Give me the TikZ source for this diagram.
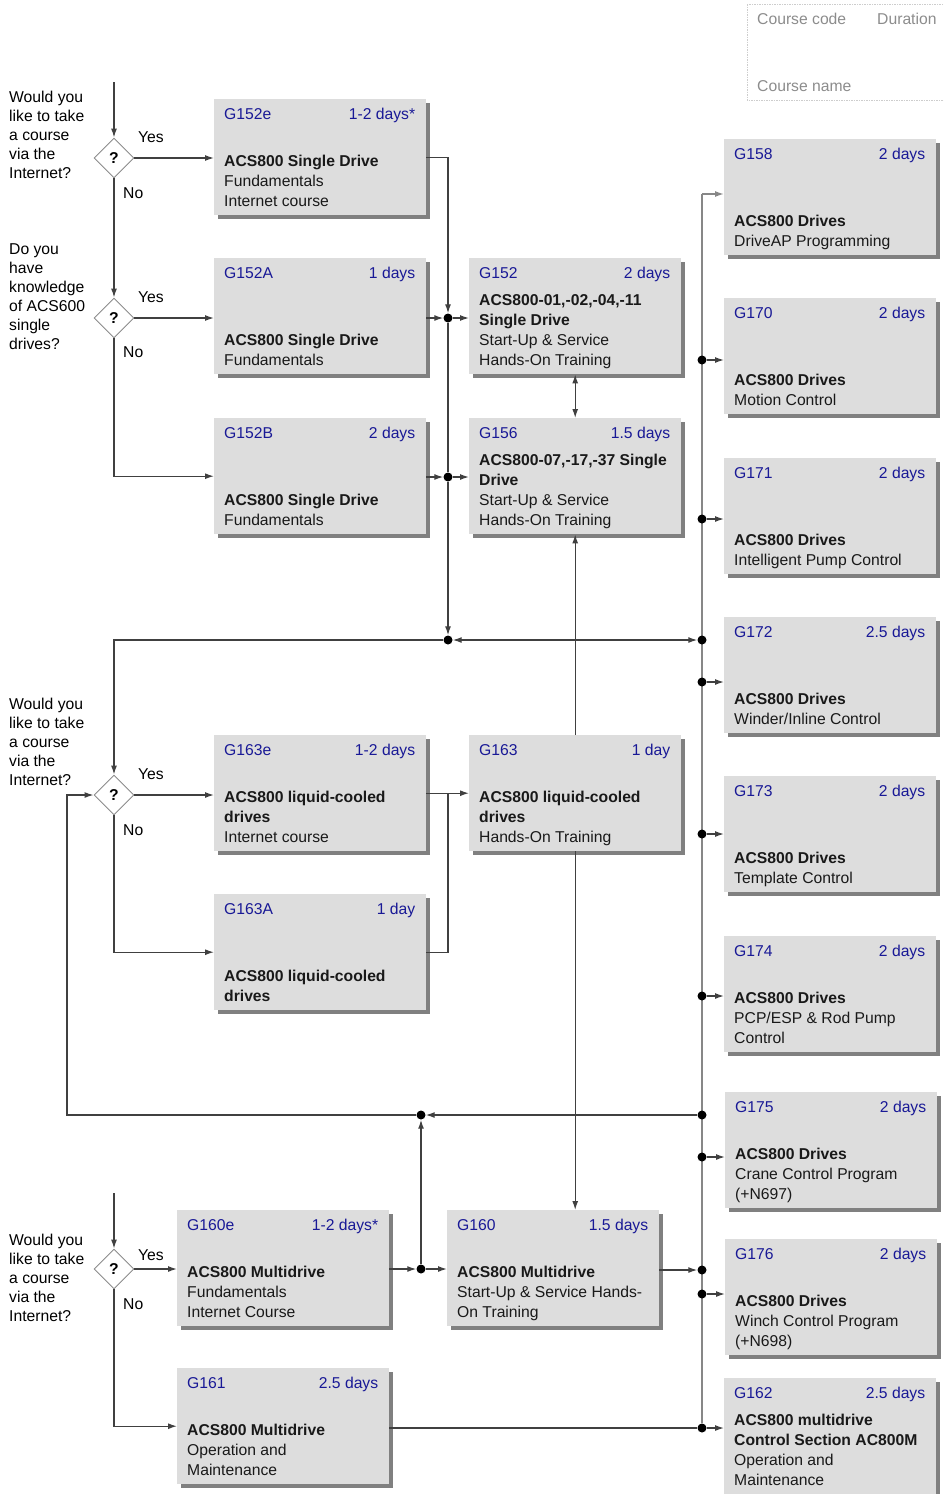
\documentclass[tikz,border=0pt]{standalone}
\usepackage{fontspec}
\setmainfont{Liberation Sans}
\usepackage{tikz}
\usetikzlibrary{shapes.geometric, shadows, calc, arrows.meta, backgrounds}

\definecolor{boxgrey}{RGB}{221,221,221}
\definecolor{shadegrey}{RGB}{128,128,128}
\definecolor{codeblue}{RGB}{25,25,150}
\definecolor{linegrey}{RGB}{64,64,64}
\definecolor{busgrey}{RGB}{135,135,135}
\definecolor{diamondgrey}{RGB}{140,140,140}
\definecolor{legendgrey}{RGB}{140,140,140}
\definecolor{framegrey}{RGB}{205,205,205}

\tikzset{
	course/.style={
		fill=boxgrey,
		minimum width=212pt,
		minimum height=116pt,
		inner sep=0pt,
		anchor=north west,
		drop shadow={shadow xshift=4pt, shadow yshift=-4pt, fill=shadegrey, opacity=1}
	},
	code/.style={text=codeblue, inner sep=0pt},
	body/.style={anchor=base west, inner sep=0pt, text=black!90},
	decision/.style={
		diamond,
		draw=diamondgrey,
		fill=white,
		line width=0.9pt,
		minimum width=40pt,
		minimum height=40pt,
		inner sep=0pt,
		font=\fontsize{15.7}{20}\selectfont\bfseries
	},
	question/.style={anchor=base west, inner sep=0pt, font=\fontsize{15.7}{19}\selectfont},
	answer/.style={anchor=base west, inner sep=0pt},
	legend/.style={anchor=base west, inner sep=0pt, text=legendgrey},
	junction/.style={circle, fill=black, inner sep=0pt, minimum size=9pt},
	bus/.style={draw=busgrey, line width=1.5pt}
}

% one course box: name, north west corner, code, duration, text
\newcommand{\course}[5]{%
	\node[course] (#1) at (#2) {};
	\node[code, anchor=base west] (#1-code) at ($(#1.north west)+(10,20)$) {#3};
	\node[code, anchor=base east] (#1-dur) at ($(#1.north east)+(-11,20)$) {#4};
	\node[body] (#1-txt) at ($(#1.south west)+(10,-9)$) {\begin{minipage}[b]{250pt}#5\end{minipage}};
}

\begin{document}
\begin{tikzpicture}[x=1pt, y=-1pt, font=\fontsize{15.7}{20}\selectfont, >={Latex[length=9pt, width=6pt]}]
	\useasboundingbox (0,0) rectangle (943,1494);

	% legend
	\draw[draw=framegrey, line width=0.6pt, dash pattern=on 1.5pt off 1pt] (747,4) rectangle (944,100);
	\node[legend] (lcode) at (757,24.5) {Course code};
	\node[legend] (ldur) at (877,24.5) {Duration};
	\node[legend] (lname) at (757,91.5) {Course name};

	% single drive courses
	\course{g152e}{214,99}{G152e}{1-2 days*}{\textbf{ACS800 Single Drive}\\Fundamentals\\Internet course}
	\course{g152a}{214,258}{G152A}{1 days}{\textbf{ACS800 Single Drive}\\Fundamentals}
	\course{g152b}{214,418}{G152B}{2 days}{\textbf{ACS800 Single Drive}\\Fundamentals}
	\course{g152}{469,258}{G152}{2 days}{\textbf{ACS800-01,-02,-04,-11}\\\textbf{Single Drive}\\Start-Up \& Service\\Hands-On Training}
	\course{g156}{469,418}{G156}{1.5 days}{\textbf{ACS800-07,-17,-37 Single}\\\textbf{Drive}\\Start-Up \& Service\\Hands-On Training}

	% liquid-cooled courses
	\course{g163e}{214,735}{G163e}{1-2 days}{\textbf{ACS800 liquid-cooled}\\\textbf{drives}\\Internet course}
	\course{g163a}{214,894}{G163A}{1 day}{\textbf{ACS800 liquid-cooled}\\\textbf{drives}}
	\course{g163}{469,735}{G163}{1 day}{\textbf{ACS800 liquid-cooled}\\\textbf{drives}\\Hands-On Training}

	% multidrive courses
	\course{g160e}{177,1210}{G160e}{1-2 days*}{\textbf{ACS800 Multidrive}\\Fundamentals\\Internet Course}
	\course{g161}{177,1368}{G161}{2.5 days}{\textbf{ACS800 Multidrive}\\Operation and\\Maintenance}
	\course{g160}{447,1210}{G160}{1.5 days}{\textbf{ACS800 Multidrive}\\Start-Up \& Service Hands-\\On Training}

	% application courses
	\course{g158}{724,139}{G158}{2 days}{\textbf{ACS800 Drives}\\DriveAP Programming}
	\course{g170}{724,298}{G170}{2 days}{\textbf{ACS800 Drives}\\Motion Control}
	\course{g171}{724,458}{G171}{2 days}{\textbf{ACS800 Drives}\\Intelligent Pump Control}
	\course{g172}{724,617}{G172}{2.5 days}{\textbf{ACS800 Drives}\\Winder/Inline Control}
	\course{g173}{724,776}{G173}{2 days}{\textbf{ACS800 Drives}\\Template Control}
	\course{g174}{724,936}{G174}{2 days}{\textbf{ACS800 Drives}\\PCP/ESP \& Rod Pump\\Control}
	\course{g175}{725,1092}{G175}{2 days}{\textbf{ACS800 Drives}\\Crane Control Program\\(+N697)}
	\course{g176}{725,1239}{G176}{2 days}{\textbf{ACS800 Drives}\\Winch Control Program\\(+N698)}
	\course{g162}{724,1378}{G162}{2.5 days}{\textbf{ACS800 multidrive}\\\textbf{Control Section AC800M}\\Operation and\\Maintenance}

	% questions
	\node[question] (q1) at (9,102.5) {\begin{minipage}[t]{90pt}Would you\\like to take\\a course\\via the\\Internet?\end{minipage}};
	\node[question] (q2) at (9,254.5) {\begin{minipage}[t]{90pt}Do you\\have\\knowledge\\of ACS600\\single\\drives?\end{minipage}};
	\node[question] (q3) at (9,709.5) {\begin{minipage}[t]{90pt}Would you\\like to take\\a course\\via the\\Internet?\end{minipage}};
	\node[question] (q4) at (9,1245) {\begin{minipage}[t]{90pt}Would you\\like to take\\a course\\via the\\Internet?\end{minipage}};

	\node[decision] (d1) at (114,158) {?};
	\node[decision] (d2) at (114,318) {?};
	\node[decision] (d3) at (114,795) {?};
	\node[decision] (d4) at (114,1269) {?};

	\node[answer] (yes1) at (138,142.5) {Yes};
	\node[answer] (no1) at (123,198.5) {No};
	\node[answer] (yes2) at (138,302.5) {Yes};
	\node[answer] (no2) at (123,357.5) {No};
	\node[answer] (yes3) at (138,779.5) {Yes};
	\node[answer] (no3) at (123,835.5) {No};
	\node[answer] (yes4) at (138,1260.5) {Yes};
	\node[answer] (no4) at (123,1309.5) {No};

	% entry points and corners
	\coordinate (in1) at (114,82);
	\coordinate (in4) at (114,1193);
	\coordinate (loop) at (67,1115);
	\coordinate (b158) at (702,194);

	% junctions
	\node[junction] (j1) at (448,318) {};
	\node[junction] (j2) at (448,477) {};
	\node[junction] (j3) at (448,640) {};
	\node[junction] (j4) at (421,1115) {};
	\node[junction] (j5) at (421,1269) {};
	\foreach \y/\nm in {360/b170, 519/b171, 640/b640, 682/b172, 834/b173, 996/b174, 1115/b1115, 1157/b175, 1270/b1270, 1294/b176, 1428/b162} {
		\node[junction] (\nm) at (702,\y) {};
	}

	% bus behind the junctions
	\begin{scope}[on background layer]
		\draw[bus] (b162) -- (b158);
	\end{scope}

	% connections
	\begin{scope}[draw=linegrey, line width=1.3pt, ->]
		% single drive
		\draw (in1) -- (d1);
		\draw (d1) -- (d1.east -| g152e.west);
		\draw (d1) -- (d2);
		\draw (d2) -- (d2.east -| g152a.west);
		\draw (d2) |- (g152b);
		\draw (g152e.east) -| (j1);
		\draw (g152a.east |- j1) -- (j1);
		\draw (j1) -- (j1 -| g152.west);
		\draw (g152b.east |- j2) -- (j2);
		\draw (j2) -- (j2 -| g156.west);
		\draw[-] (j1) -- (j2);
		\draw (j2) -- (j3);
		\draw[<->] (g152.south) -- (g156.north);
		\draw[<->] (j3) -- (b640);
		\draw (j3) -| (d3);

		% liquid-cooled
		\draw (d3) -- (d3.east -| g163e.west);
		\draw (d3) |- (g163a);
		\draw (g163e.east) -- (g163e.east -| g163.west);
		\draw[-] (g163a.east) -| (j3 |- g163e.east);
		\draw (g163.north) -- (g156.south);
		\draw (g163.south) -- (g163.south |- g160.north);
		\draw (b1115) -- (j4);
		\draw (j4) -- (loop) |- (d3);

		% multidrive
		\draw (in4) -- (d4);
		\draw (d4) -- (d4.east -| g160e.west);
		\draw (d4) |- (g161);
		\draw (g160e.east |- j5) -- (j5);
		\draw (j5) -- (j5 -| g160.west);
		\draw (j5) -- (j4);
		\draw (g160.east |- b1270) -- (b1270);
		\draw[-] (g161.east |- b162) -- (b162);

		% bus to application courses
		\draw[draw=busgrey, line width=1.5pt] (b158) -- (b158 -| g158.west);
		\foreach \nm/\bx in {b170/g170, b171/g171, b172/g172, b173/g173, b174/g174, b175/g175, b176/g176, b162/g162} {
			\draw (\nm) -- (\nm -| \bx.west);
		}
	\end{scope}
\end{tikzpicture}
\end{document}
